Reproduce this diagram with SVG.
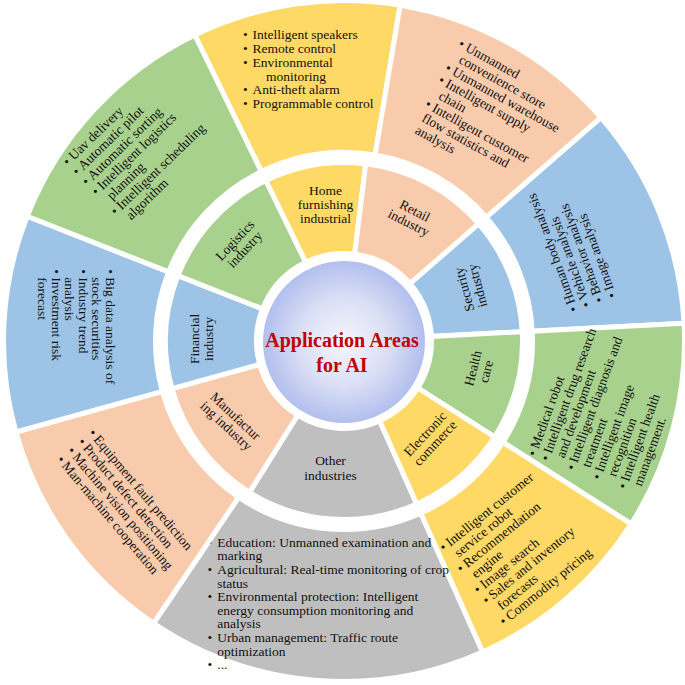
<svg xmlns="http://www.w3.org/2000/svg" width="685" height="685" viewBox="0 0 685 685">
<defs>
<radialGradient id="cg" cx="50%" cy="50%" r="50%">
<stop offset="0" stop-color="#f5f5fb"/>
<stop offset="0.55" stop-color="#dadff5"/>
<stop offset="1" stop-color="#b2bfee"/>
</radialGradient>
</defs>
<style>
.seg{stroke:#fff;stroke-width:5;stroke-linejoin:miter}
.y{fill:#FFD966}.o{fill:#F8CBAD}.b{fill:#9DC3E6}.g{fill:#A9D18E}.k{fill:#BFBFBF}
.t{font-family:"Liberation Serif","Times New Roman",serif;font-size:13.5px;fill:#111}
.m{text-anchor:middle}
.title{font-family:"Liberation Serif","Times New Roman",serif;font-size:20px;font-weight:bold;fill:#C00000;text-anchor:middle}
</style>
<rect width="685" height="685" fill="#fff"/>

<!-- Outer ring -->
<g id="outer-home">
<path class="seg y" d="M194.72,34.96 A340.5,340.5 0 0 1 400.18,5.16 L375.10,155.08 A188.5,188.5 0 0 0 261.36,171.58 Z"/>
<text class="t" transform="translate(243,39.3)"><tspan x="0" y="0">•</tspan><tspan x="9.5" y="0">Intelligent speakers</tspan><tspan x="0" y="13.8">•</tspan><tspan x="9.5" y="13.8">Remote control</tspan><tspan x="0" y="27.6">•</tspan><tspan x="9.5" y="27.6">Environmental</tspan><tspan x="23" y="41.4">monitoring</tspan><tspan x="0" y="55.2">•</tspan><tspan x="9.5" y="55.2">Anti-theft alarm</tspan><tspan x="0" y="69">•</tspan><tspan x="9.5" y="69">Programmable control</tspan></text>
</g>
<g id="outer-retail">
<path class="seg o" d="M400.18,5.16 A340.5,340.5 0 0 1 600.98,117.60 L486.26,217.33 A188.5,188.5 0 0 0 375.10,155.08 Z"/>
<text class="t" transform="translate(457.6,46.5) rotate(29)"><tspan x="0" y="0">•</tspan><tspan x="8" y="0">Unmanned</tspan><tspan x="8" y="13.8">convenience store</tspan><tspan x="0" y="27.6">•</tspan><tspan x="8" y="27.6">Unmanned warehouse</tspan><tspan x="0" y="41.4">•</tspan><tspan x="8" y="41.4">Intelligent supply</tspan><tspan x="8" y="55.2">chain</tspan><tspan x="0" y="69">•</tspan><tspan x="8" y="69">Intelligent customer</tspan><tspan x="4" y="82.8">flow statistics and</tspan><tspan x="4" y="96.6">analysis</tspan></text>
</g>
<g id="outer-security">
<path class="seg b" d="M600.98,117.60 A340.5,340.5 0 0 1 684.02,323.19 L532.24,331.14 A188.5,188.5 0 0 0 486.26,217.33 Z"/>
<text class="t" transform="translate(578.1,310.1) rotate(-110)"><tspan x="0" y="0">•</tspan><tspan x="8" y="0">Human body analysis</tspan><tspan x="0" y="13.6">•</tspan><tspan x="8" y="13.6">Vehicle analysis</tspan><tspan x="0" y="27.2">•</tspan><tspan x="8" y="27.2">Behavior analysis</tspan><tspan x="0" y="40.8">•</tspan><tspan x="8" y="40.8">Image analysis</tspan></text>
</g>
<g id="outer-health">
<path class="seg g" d="M684.02,323.19 A340.5,340.5 0 0 1 631.18,523.95 L502.98,442.28 A188.5,188.5 0 0 0 532.24,331.14 Z"/>
<text class="t" transform="translate(535.8,457) rotate(-70)"><tspan x="0" y="0">•</tspan><tspan x="8" y="0">Medical robot</tspan><tspan x="0" y="13.7">•</tspan><tspan x="8" y="13.7">Intelligent drug research</tspan><tspan x="8" y="27.4">and development</tspan><tspan x="0" y="41.1">•</tspan><tspan x="8" y="41.1">Intelligent diagnosis and</tspan><tspan x="8" y="54.8">treatment</tspan><tspan x="0" y="68.5">•</tspan><tspan x="8" y="68.5">Intelligent image</tspan><tspan x="8" y="82.2">recognition</tspan><tspan x="0" y="95.9">•</tspan><tspan x="8" y="95.9">Intelligent health</tspan><tspan x="8" y="109.6">management.</tspan></text>
</g>
<g id="outer-ecommerce">
<path class="seg y" d="M631.18,523.95 A340.5,340.5 0 0 1 482.48,652.05 L420.66,513.19 A188.5,188.5 0 0 0 502.98,442.28 Z"/>
<text class="t" transform="translate(444.1,552.1) rotate(-39)"><tspan x="0" y="0">•</tspan><tspan x="8" y="0">Intelligent customer</tspan><tspan x="8" y="13.6">service robot</tspan><tspan x="0" y="27.2">•</tspan><tspan x="8" y="27.2">Recommendation</tspan><tspan x="8" y="40.8">engine</tspan><tspan x="0" y="54.4">•</tspan><tspan x="8" y="54.4">Image search</tspan><tspan x="0" y="68">•</tspan><tspan x="8" y="68">Sales and inventory</tspan><tspan x="8" y="81.6">forecasts</tspan><tspan x="0" y="95.2">•</tspan><tspan x="8" y="95.2">Commodity pricing</tspan></text>
</g>
<g id="outer-other">
<path class="seg k" d="M482.48,652.05 A340.5,340.5 0 0 1 153.59,623.27 L238.59,497.27 A188.5,188.5 0 0 0 420.66,513.19 Z"/>
<text class="t" transform="translate(207.6,546.9)"><tspan x="0" y="0">•</tspan><tspan x="9.7" y="0">Education: Unmanned examination and</tspan><tspan x="9.7" y="13.6">marking</tspan><tspan x="0" y="27.2">•</tspan><tspan x="9.7" y="27.2">Agricultural: Real-time monitoring of crop</tspan><tspan x="9.7" y="40.8">status</tspan><tspan x="0" y="54.4">•</tspan><tspan x="9.7" y="54.4">Environmental protection: Intelligent</tspan><tspan x="9.7" y="68">energy consumption monitoring and</tspan><tspan x="9.7" y="81.6">analysis</tspan><tspan x="0" y="95.2">•</tspan><tspan x="9.7" y="95.2">Urban management: Traffic route</tspan><tspan x="9.7" y="108.8">optimization</tspan><tspan x="0" y="122.4">•</tspan><tspan x="9.7" y="122.4">...</tspan></text>
</g>
<g id="outer-manufacturing">
<path class="seg o" d="M153.59,623.27 A340.5,340.5 0 0 1 15.89,431.98 L162.36,391.37 A188.5,188.5 0 0 0 238.59,497.27 Z"/>
<text class="t" transform="translate(87.9,433.6) rotate(50)"><tspan x="0" y="0">•</tspan><tspan x="8" y="0">Equipment fault prediction</tspan><tspan x="0" y="13.8">•</tspan><tspan x="8" y="13.8">Product defect detection</tspan><tspan x="0" y="27.6">•</tspan><tspan x="8" y="27.6">Machine vision positioning</tspan><tspan x="0" y="41.4">•</tspan><tspan x="8" y="41.4">Man-machine cooperation</tspan></text>
</g>
<g id="outer-financial">
<path class="seg b" d="M15.89,431.98 A340.5,340.5 0 0 1 27.20,216.21 L168.62,271.91 A188.5,188.5 0 0 0 162.36,391.37 Z"/>
<text class="t" transform="translate(105.8,269.3) rotate(90)"><tspan x="0" y="0">•</tspan><tspan x="8" y="0">Big data analysis of</tspan><tspan x="8" y="13.5">stock securities</tspan><tspan x="0" y="27">•</tspan><tspan x="8" y="27">Industry trend</tspan><tspan x="8" y="40.5">analysis</tspan><tspan x="0" y="54">•</tspan><tspan x="8" y="54">Investment risk</tspan><tspan x="8" y="67.5">forecast</tspan></text>
</g>
<g id="outer-logistics">
<path class="seg g" d="M27.20,216.21 A340.5,340.5 0 0 1 194.72,34.96 L261.36,171.58 A188.5,188.5 0 0 0 168.62,271.91 Z"/>
<text class="t" transform="translate(67.9,166.4) rotate(-44)"><tspan x="0" y="0">•</tspan><tspan x="8" y="0">Uav delivery</tspan><tspan x="0" y="13.8">•</tspan><tspan x="8" y="13.8">Automatic pilot</tspan><tspan x="0" y="27.6">•</tspan><tspan x="8" y="27.6">Automatic sorting</tspan><tspan x="0" y="41.4">•</tspan><tspan x="8" y="41.4">Intelligent logistics</tspan><tspan x="8" y="55.2">planning</tspan><tspan x="0" y="69">•</tspan><tspan x="8" y="69">Intelligent scheduling</tspan><tspan x="8" y="82.8">algorithm</tspan></text>
</g>

<!-- Inner ring -->
<g id="inner-home">
<path class="seg y" d="M265.75,180.56 A178.5,178.5 0 0 1 365.76,163.84 L354.67,254.16 A87.5,87.5 0 0 0 305.64,262.35 Z"/>
<text class="t m"><tspan x="325.5" y="194.5">Home</tspan><tspan x="325.5" y="208.5">furnishing</tspan><tspan x="325.5" y="222.5">industrial</tspan></text>
</g>
<g id="inner-retail">
<path class="seg o" d="M365.76,163.84 A178.5,178.5 0 0 1 478.71,223.89 L410.04,283.59 A87.5,87.5 0 0 0 354.67,254.16 Z"/>
<text class="t m" transform="translate(411.7,217) rotate(27)"><tspan x="0" y="-2.5">Retail</tspan><tspan x="0" y="11">industry</tspan></text>
</g>
<g id="inner-security">
<path class="seg b" d="M478.71,223.89 A178.5,178.5 0 0 1 522.25,331.66 L431.38,336.42 A87.5,87.5 0 0 0 410.04,283.59 Z"/>
<text class="t m" transform="translate(471,287.5) rotate(-105)"><tspan x="0" y="-2.5">Security</tspan><tspan x="0" y="11">industry</tspan></text>
</g>
<g id="inner-health">
<path class="seg g" d="M522.25,331.66 A178.5,178.5 0 0 1 494.55,436.91 L417.80,388.01 A87.5,87.5 0 0 0 431.38,336.42 Z"/>
<text class="t m" transform="translate(479.7,370) rotate(-76)"><tspan x="0" y="-2.5">Health</tspan><tspan x="0" y="11">care</tspan></text>
</g>
<g id="inner-ecommerce">
<path class="seg y" d="M494.55,436.91 A178.5,178.5 0 0 1 416.60,504.06 L379.59,420.93 A87.5,87.5 0 0 0 417.80,388.01 Z"/>
<text class="t m" transform="translate(430.3,438.7) rotate(-47)"><tspan x="0" y="-2.5">Electronic</tspan><tspan x="0" y="11">commerce</tspan></text>
</g>
<g id="inner-other">
<path class="seg k" d="M416.60,504.06 A178.5,178.5 0 0 1 249.41,492.37 L297.63,415.20 A87.5,87.5 0 0 0 379.59,420.93 Z"/>
<text class="t m"><tspan x="330.5" y="465">Other</tspan><tspan x="330.5" y="479.5">industries</tspan></text>
</g>
<g id="inner-manufacturing">
<path class="seg o" d="M249.41,492.37 A178.5,178.5 0 0 1 172.00,388.70 L259.68,364.38 A87.5,87.5 0 0 0 297.63,415.20 Z"/>
<text class="t m" transform="translate(230.7,421.2) rotate(43)"><tspan x="0" y="-2.5">Manufactur</tspan><tspan x="0" y="11">ing industry</tspan></text>
</g>
<g id="inner-financial">
<path class="seg b" d="M172.00,388.70 A178.5,178.5 0 0 1 177.92,275.58 L262.59,308.93 A87.5,87.5 0 0 0 259.68,364.38 Z"/>
<text class="t m" transform="translate(201.7,338.8) rotate(-90)"><tspan x="0" y="-2.5">Financial</tspan><tspan x="0" y="11">industry</tspan></text>
</g>
<g id="inner-logistics">
<path class="seg g" d="M177.92,275.58 A178.5,178.5 0 0 1 265.75,180.56 L305.64,262.35 A87.5,87.5 0 0 0 262.59,308.93 Z"/>
<text class="t m" transform="translate(240,245) rotate(-47)"><tspan x="0" y="-2.5">Logistics</tspan><tspan x="0" y="11">industry</tspan></text>
</g>

<!-- Center -->
<g id="center">
<circle cx="344" cy="342" r="81" fill="url(#cg)"/>
<text class="title"><tspan x="342" y="347">Application  Areas</tspan><tspan x="342" y="371.5">for AI</tspan></text>
</g>
<g id="connectors"/>
</svg>
